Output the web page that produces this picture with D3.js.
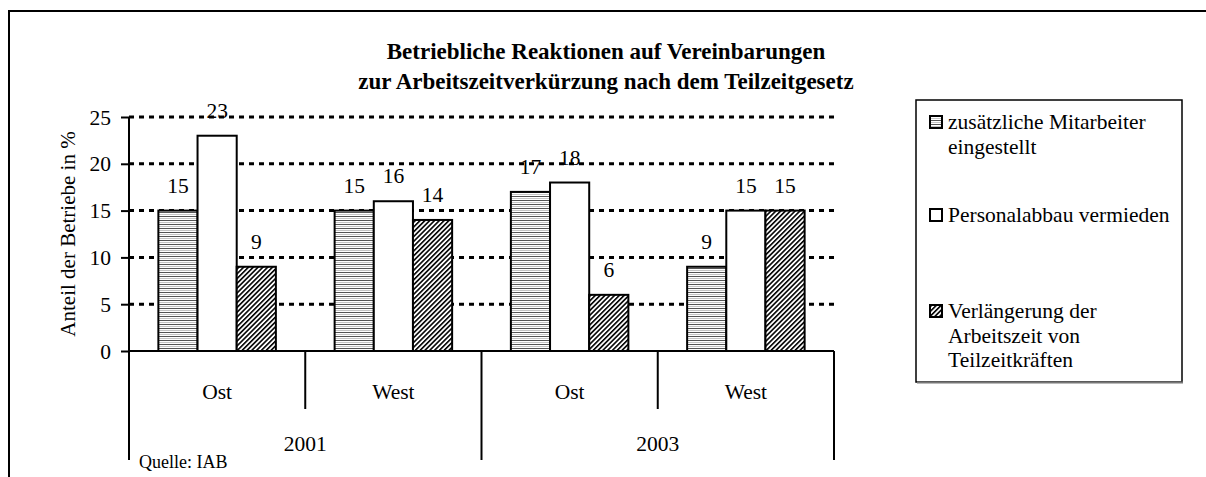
<!DOCTYPE html>
<html>
<head>
<meta charset="utf-8">
<script src="https://cdn.jsdelivr.net/npm/d3@7"></script>
<style>
	body { margin: 0; background: #fff; }
	svg text { font-family: "Liberation Serif", "Times New Roman", serif; fill: #000; }
</style>
</head>
<body>
<svg width="1206" height="477"></svg>
<script>
// data
var years = ["2001", "2003"];
var regions = ["Ost", "West"];
var seriesNames = [
	["zusätzliche Mitarbeiter", "eingestellt"],
	["Personalabbau vermieden"],
	["Verlängerung der", "Arbeitszeit von", "Teilzeitkräften"]
];
var mitarbeiter = [15, 15, 17, 9];     // Ost01, West01, Ost03, West03
var abbau = [23, 16, 18, 15];
var verlaengerung = [9, 14, 6, 15];
var yTicks = [0, 5, 10, 15, 20, 25];
var titleLines = ["Betriebliche Reaktionen auf Vereinbarungen", "zur Arbeitszeitverkürzung nach dem Teilzeitgesetz"];

var SERIF = "Liberation Serif, Times New Roman, serif";

function drawPlot() {
	var svg = d3.select("svg").attr("font-family", SERIF);
	var plot = {left: 129, right: 834, top: 117, bottom: 351};
	var fs = 21.5;

	var cats = [];
	years.forEach(y => regions.forEach(r => cats.push(y + "|" + r)));
	var values = [mitarbeiter, abbau, verlaengerung];
	var bars = [];
	cats.forEach((c, i) => values.forEach((v, s) => bars.push({cat: c, s: s, value: v[i]})));

	// patterns
	var defs = svg.append("defs");
	var ph = defs.append("pattern").attr("id", "horiz")
		.attr("patternUnits", "userSpaceOnUse").attr("width", 8).attr("height", 4);
	ph.append("rect").attr("width", 8).attr("height", 4).attr("fill", "#fff");
	ph.append("line").attr("x1", 0).attr("x2", 8).attr("y1", 0.5).attr("y2", 0.5)
		.attr("stroke", "#555").attr("stroke-width", 1);
	ph.append("line").attr("x1", 0).attr("x2", 8).attr("y1", 2.5).attr("y2", 2.5)
		.attr("stroke", "#c4c4c4").attr("stroke-width", 1);
	var pd = defs.append("pattern").attr("id", "diag")
		.attr("patternUnits", "userSpaceOnUse").attr("width", 3.4).attr("height", 3.4)
		.attr("patternTransform", "rotate(45)");
	pd.append("rect").attr("width", 3.4).attr("height", 3.4).attr("fill", "#fff");
	pd.append("line").attr("x1", 0.8).attr("x2", 0.8).attr("y1", 0).attr("y2", 3.4)
		.attr("stroke", "#000").attr("stroke-width", 1.6);
	var fills = ["url(#horiz)", "#fff", "url(#diag)"];

	// outer frame
	svg.append("rect").attr("x", 9).attr("y", 11).attr("width", 1210).attr("height", 500)
		.attr("fill", "none").attr("stroke", "#000").attr("stroke-width", 2);

	// title
	svg.append("g").selectAll("text").data(titleLines).enter().append("text")
		.attr("x", 606).attr("y", (d, i) => 59 + i * 30)
		.attr("text-anchor", "middle").attr("font-weight", "bold").attr("font-size", 23)
		.attr("font-family", SERIF)
		.text(d => d);

	var x = d3.scaleBand().domain(cats).range([plot.left, plot.right]).padding(0);
	var xs = d3.scaleBand().domain([0, 1, 2]).range([0, x.bandwidth()])
		.paddingInner(0).paddingOuter(0.75);
	var y = d3.scaleLinear().domain([0, 25]).range([plot.bottom, plot.top]);

	// gridlines
	svg.append("g").selectAll("line").data(yTicks.filter(t => t > 0)).enter().append("line")
		.attr("x1", plot.left).attr("x2", plot.right)
		.attr("y1", d => y(d)).attr("y2", d => y(d))
		.attr("stroke", "#000").attr("stroke-width", 3).attr("stroke-dasharray", "5,5");

	// y axis
	var yAxis = svg.append("g").attr("transform", "translate(" + plot.left + ",0)")
		.call(d3.axisLeft(y).tickValues(yTicks).tickSize(8).tickPadding(10))
		.attr("font-family", SERIF).attr("font-size", fs);
	yAxis.select(".domain").remove();
	yAxis.selectAll(".tick line").attr("stroke", "#000").attr("stroke-width", 2);
	yAxis.selectAll(".tick text").attr("font-size", fs).attr("font-family", SERIF).attr("dy", "0.33em");
	svg.append("line").attr("x1", plot.left).attr("x2", plot.left)
		.attr("y1", plot.top).attr("y2", 460).attr("stroke", "#000").attr("stroke-width", 2);

	svg.append("text").attr("transform", "translate(68," + ((plot.top + plot.bottom) / 2) + ") rotate(-90)")
		.attr("text-anchor", "middle").attr("dy", "0.33em").attr("font-size", fs - 0.5)
		.attr("font-family", SERIF)
		.text("Anteil der Betriebe in %");

	// bars
	svg.append("g").selectAll("rect").data(bars).enter().append("rect")
		.attr("x", d => x(d.cat) + xs(d.s))
		.attr("y", d => y(d.value))
		.attr("width", xs.bandwidth())
		.attr("height", d => y(0) - y(d.value))
		.attr("fill", d => fills[d.s])
		.attr("stroke", "#000").attr("stroke-width", 2);

	svg.append("g").selectAll("text").data(bars).enter().append("text")
		.attr("x", d => x(d.cat) + xs(d.s) + xs.bandwidth() / 2)
		.attr("y", d => y(d.value) - 18)
		.attr("text-anchor", "middle").attr("font-size", fs).attr("font-family", SERIF)
		.text(d => d.value);

	// category axis
	svg.append("line").attr("x1", plot.left).attr("x2", plot.right)
		.attr("y1", y(0)).attr("y2", y(0)).attr("stroke", "#000").attr("stroke-width", 2);
	var regionDividers = cats.filter(c => c.split("|")[1] !== regions[0]).map(c => x(c));
	svg.append("g").selectAll("line").data(regionDividers).enter().append("line")
		.attr("x1", d => d).attr("x2", d => d).attr("y1", y(0)).attr("y2", 409)
		.attr("stroke", "#000").attr("stroke-width", 2);
	var yearEdges = years.map(yr => x(yr + "|" + regions[0])).slice(1).concat([plot.right]);
	svg.append("g").selectAll("line").data(yearEdges).enter().append("line")
		.attr("x1", d => d).attr("x2", d => d).attr("y1", y(0)).attr("y2", 460)
		.attr("stroke", "#000").attr("stroke-width", 2);

	svg.append("g").selectAll("text").data(cats).enter().append("text")
		.attr("x", d => x(d) + x.bandwidth() / 2).attr("y", 392).attr("dy", "0.33em")
		.attr("text-anchor", "middle").attr("font-size", fs).attr("font-family", SERIF)
		.text(d => d.split("|")[1]);
	svg.append("g").selectAll("text").data(years).enter().append("text")
		.attr("x", d => x(d + "|" + regions[0]) + x.bandwidth())
		.attr("y", 444).attr("dy", "0.33em")
		.attr("text-anchor", "middle").attr("font-size", fs).attr("font-family", SERIF)
		.text(d => d);

	svg.append("text").attr("x", 139).attr("y", 462).attr("dy", "0.33em")
		.attr("font-size", 18).attr("font-family", SERIF).text("Quelle: IAB");

	// legend
	var lg = svg.append("g");
	lg.append("rect").attr("x", 916).attr("y", 100).attr("width", 266).attr("height", 282)
		.attr("fill", "#fff").attr("stroke", "#000").attr("stroke-width", 1.5);
	lg.append("line").attr("x1", 917).attr("x2", 1183).attr("y1", 382.5).attr("y2", 382.5)
		.attr("stroke", "#777").attr("stroke-width", 2);
	var entryY = [122, 215, 311];
	var lineH = 24.5;
	seriesNames.forEach((lines, s) => {
		lg.append("rect").attr("x", 930).attr("y", entryY[s] - 6).attr("width", 12).attr("height", 12)
			.attr("fill", fills[s]).attr("stroke", "#000").attr("stroke-width", 2);
		lg.append("g").selectAll("text").data(lines).enter().append("text")
			.attr("x", 948).attr("y", (d, i) => entryY[s] + i * lineH).attr("dy", "0.33em")
			.attr("font-size", fs).attr("font-family", SERIF).text(d => d);
	});
}
drawPlot();
</script>
</body>
</html>
